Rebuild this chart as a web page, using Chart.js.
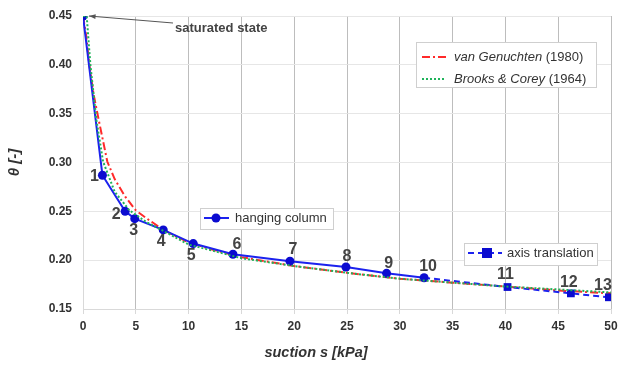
<!DOCTYPE html>
<html>
<head>
<meta charset="utf-8">
<script src="https://cdn.jsdelivr.net/npm/chart.js@4/dist/chart.umd.min.js"></script>
<style>
  html,body{margin:0;padding:0;background:#fff;}
  #wrap{width:619px;height:365px;}
</style>
</head>
<body>
<div id="wrap"><canvas id="c" width="619" height="365"></canvas></div>
<script>
// measured points, suction s [kPa] vs theta [-]
const hangS     = [0, 1.84, 3.99, 4.9, 7.6, 10.44, 14.2, 19.6, 24.9, 28.75, 32.3];
const hangTheta = [0.45, 0.287, 0.250, 0.2425, 0.231, 0.217, 0.206, 0.199, 0.193, 0.1865, 0.182];
const axisS     = [32.3, 40.2, 46.2, 49.8];
const axisTheta = [0.182, 0.1725, 0.166, 0.162];

// fitted curves
const vgS     = [0, 0.3, 0.6, 1.0, 1.5, 2.3, 3, 4, 5, 6, 7.6, 10, 12.5, 15, 20, 25, 30, 35, 40, 45, 50];
const vgTheta = [0.45, 0.43, 0.40, 0.37, 0.343, 0.301, 0.283, 0.265, 0.251, 0.243, 0.231, 0.218, 0.210, 0.203, 0.194, 0.187, 0.181, 0.177, 0.173, 0.169, 0.166];
const bcS     = [0, 0.35, 0.7, 1.27, 1.9, 3, 4.4, 6, 7.6, 10, 12.5, 15, 20, 25, 30, 35, 40, 45, 50];
const bcTheta = [0.45, 0.45, 0.40, 0.3435, 0.301, 0.27, 0.251, 0.239, 0.230, 0.216, 0.209, 0.202, 0.194, 0.187, 0.181, 0.177, 0.173, 0.170, 0.167];

const xTicks = [0, 5, 10, 15, 20, 25, 30, 35, 40, 45, 50];
const yTicks = [0.15, 0.20, 0.25, 0.30, 0.35, 0.40, 0.45];
const pointNames = ['1','2','3','4','5','6','7','8','9','10','11','12','13'];

const pts = (xs, ys) => xs.map((x,i) => ({x:x, y:ys[i]}));

const BLUE = '#1c22ee', BLUE_PT = '#0b0bd0', RED = '#ff2a2a', GREEN = '#1fb35a';
const FONT = '"Liberation Sans", Arial, sans-serif';

// label offsets from their point (px)
const labelOff = [[-8,1],[-9,3],[-1,12],[-2,12],[-2,12],[4,-10],[3,-12],[1,-10],[2,-10],[4,-11],[-2,-12],[-2,-11],[-6,-12]];

const overlay = {
  id: 'overlay',
  afterDatasetsDraw(chart){
    const {ctx, scales:{x, y}} = chart;
    ctx.save();
    // numbered points
    ctx.font = 'bold 16px ' + FONT;
    ctx.fillStyle = '#444';
    ctx.textAlign = 'center';
    ctx.textBaseline = 'middle';
    const all = pts(hangS.slice(1), hangTheta.slice(1)).concat(pts(axisS.slice(1), axisTheta.slice(1)));
    all.forEach((p,i) => {
      ctx.fillText(pointNames[i], x.getPixelForValue(p.x) + labelOff[i][0], y.getPixelForValue(p.y) + labelOff[i][1]);
    });

    // saturated state arrow
    const px = x.getPixelForValue(hangS[0]) + 6, py = y.getPixelForValue(hangTheta[0]);
    const tx = 173, ty = 23;
    ctx.strokeStyle = '#555'; ctx.lineWidth = 1;
    ctx.beginPath(); ctx.moveTo(tx, ty); ctx.lineTo(px, py); ctx.stroke();
    const a = Math.atan2(ty-py, tx-px);
    ctx.fillStyle = '#555';
    ctx.beginPath();
    ctx.moveTo(px, py);
    ctx.lineTo(px + 7*Math.cos(a-0.35), py + 7*Math.sin(a-0.35));
    ctx.lineTo(px + 7*Math.cos(a+0.35), py + 7*Math.sin(a+0.35));
    ctx.closePath(); ctx.fill();
    ctx.font = 'bold 13px ' + FONT;
    ctx.fillStyle = '#444';
    ctx.textAlign = 'left';
    ctx.fillText('saturated state', 175, 28);

    // x axis title, sits left of centre in the original
    ctx.font = 'italic bold 14.5px ' + FONT;
    ctx.fillStyle = '#333';
    ctx.textAlign = 'center';
    ctx.fillText('suction s [kPa]', 316, 353);

    // legend boxes
    const box = (x0,y0,w,h) => {
      ctx.fillStyle = '#fff'; ctx.fillRect(x0,y0,w,h);
      ctx.strokeStyle = '#cfcfcf'; ctx.lineWidth = 1; ctx.strokeRect(x0+0.5,y0+0.5,w,h);
    };
    const seg = (x0,x1,yy,color,dash) => {
      ctx.strokeStyle = color; ctx.lineWidth = 2; ctx.setLineDash(dash);
      ctx.beginPath(); ctx.moveTo(x0,yy); ctx.lineTo(x1,yy); ctx.stroke();
      ctx.setLineDash([]);
    };
    const txt = (parts, x0, yy) => {
      let cx = x0;
      ctx.fillStyle = '#333'; ctx.textAlign = 'left'; ctx.textBaseline = 'middle';
      parts.forEach(([s, it]) => {
        ctx.font = (it ? 'italic ' : '') + '13px ' + FONT;
        ctx.fillText(s, cx, yy);
        cx += ctx.measureText(s).width;
      });
    };
    box(416, 42, 180, 45);
    seg(422, 446, 57, RED, [8,3,2,3]);
    txt([['van Genuchten', true], [' (1980)', false]], 454, 57);
    seg(422, 446, 79, GREEN, [2,2]);
    txt([['Brooks & Corey', true], [' (1964)', false]], 454, 79);

    box(200, 208, 133, 21);
    seg(204, 229, 218, BLUE, []);
    ctx.fillStyle = BLUE_PT; ctx.beginPath(); ctx.arc(216, 218, 4.5, 0, Math.PI*2); ctx.fill();
    txt([[chart.data.datasets[0].label, false]], 235, 218.5);

    box(464, 243, 133, 22);
    seg(468, 502, 253, BLUE, [6,4]);
    ctx.fillStyle = BLUE_PT; ctx.fillRect(482, 248, 10, 10);
    txt([[chart.data.datasets[1].label, false]], 507, 253.5);
    ctx.restore();
  }
};

new Chart(document.getElementById('c'), {
  type: 'scatter',
  data: {
    datasets: [
      { label: 'hanging column', data: pts(hangS, hangTheta), showLine: true,
        borderColor: BLUE, borderWidth: 2, backgroundColor: BLUE_PT,
        pointRadius: 4.5, pointBorderWidth: 0, pointBackgroundColor: BLUE_PT, order: 1 },
      { label: 'axis translation', data: pts(axisS, axisTheta), showLine: true,
        borderColor: BLUE, borderWidth: 2, borderDash: [6,4],
        pointStyle: 'rect', pointRadius: axisS.map((_,i) => i===0 ? 0 : 5.5), pointBorderWidth: 0,
        pointBackgroundColor: BLUE_PT, order: 2 },
      { label: 'van Genuchten (1980)', data: pts(vgS, vgTheta), showLine: true,
        borderColor: RED, borderWidth: 2, borderDash: [8,3,2,3], pointRadius: 0, order: 3 },
      { label: 'Brooks & Corey (1964)', data: pts(bcS, bcTheta), showLine: true,
        borderColor: GREEN, borderWidth: 2, borderDash: [2,2], pointRadius: 0, order: 0 }
    ]
  },
  options: {
    responsive: false,
    animation: false,
    layout: { padding: { top: 16, right: 8, left: 0, bottom: 0 } },
    plugins: { legend: { display: false }, tooltip: { enabled: false } },
    scales: {
      x: {
        type: 'linear', min: 0, max: 50,
        afterBuildTicks: s => { s.ticks = xTicks.map(v => ({value: v})); },
        afterFit: s => { s.height = 56; s.paddingLeft = 0; s.paddingRight = 0; },
        grid: { color: c => c.tick && c.tick.value === 0 ? '#d9d9d9' : '#bdbdbd', tickLength: 5, tickColor: '#d9d9d9' },
        border: { color: '#d9d9d9' },
        ticks: { padding: 5, color: '#333', font: { family: FONT, size: 12, weight: 'bold' } },
        title: { display: false }
      },
      y: {
        min: 0.15, max: 0.45,
        afterBuildTicks: s => { s.ticks = yTicks.map(v => ({value: v})); },
        afterFit: s => { s.width = 83; s.paddingTop = 0; s.paddingBottom = 0; },
        grid: { color: '#e6e6e6', drawTicks: false },
        border: { color: '#d9d9d9' },
        ticks: { padding: 11, color: '#333', callback: v => v.toFixed(2),
                 font: { family: FONT, size: 12, weight: 'bold' } },
        title: { display: true, text: 'θ [-]', color: '#333', padding: { top: 6, bottom: 0 },
                 font: { family: FONT, size: 15, style: 'italic', weight: 'bold' } }
      }
    }
  },
  plugins: [overlay]
});
</script>
</body>
</html>
